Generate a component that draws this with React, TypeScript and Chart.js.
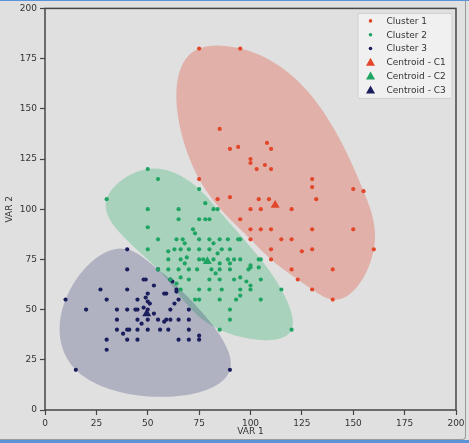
import React, { useEffect, useRef } from "react";
import { Chart, registerables } from "chart.js";

Chart.register(...registerables);

type Pt = [number, number];

// ---- data ----
const cluster1: Pt[] = [
  [75, 180], [95, 180], [85, 140], [90, 130], [94, 131], [108, 133], [110, 130], [100, 125],
  [100, 123], [103, 120], [107, 122], [110, 120], [75, 115], [130, 115], [130, 111], [150, 110],
  [155, 109], [90, 106], [84, 105], [104, 105], [109, 105], [132, 105], [100, 100], [105, 100],
  [120, 100], [95, 95], [100, 90], [105, 90], [110, 90], [130, 90], [150, 90], [100, 85],
  [115, 85], [120, 85], [110, 80], [125, 79], [130, 80], [160, 80], [110, 75], [120, 70],
  [140, 70], [123, 65], [130, 60], [140, 55],
];

const cluster2: Pt[] = [
  [50, 120], [55, 115], [30, 105], [75, 110], [78, 103], [50, 100], [65, 100], [82, 100],
  [84, 100], [65, 95], [75, 95], [78, 95], [80, 95], [50, 91], [72, 90], [73, 88], [55, 85],
  [64, 85], [67, 85], [68, 83], [75, 85], [80, 85], [82, 83], [85, 85], [89, 85], [94, 85],
  [95, 85], [50, 80], [60, 79], [63, 80], [66, 80], [70, 80], [75, 80], [80, 80], [84, 78],
  [86, 80], [90, 80], [60, 75], [66, 75], [69, 76], [75, 75], [77, 75], [82, 75], [89, 75],
  [92, 75], [95, 75], [104, 75], [105, 75], [85, 73], [90, 73], [100, 72], [100, 71], [104, 71],
  [55, 70], [60, 70], [65, 70], [68, 73], [70, 70], [74, 70], [81, 70], [85, 70], [90, 70],
  [99, 70], [83, 68], [61, 65], [64, 63], [66, 66], [70, 65], [80, 65], [85, 65], [92, 65],
  [95, 66], [98, 64], [105, 65], [100, 62], [66, 60], [75, 60], [80, 60], [86, 60], [95, 60],
  [100, 60], [115, 60], [73, 55], [75, 55], [85, 55], [93, 55], [95, 57], [105, 55], [90, 50],
  [90, 45], [85, 40], [120, 40],
];

const cluster3: Pt[] = [
  [40, 80], [40, 70], [55, 70], [48, 65], [49, 65], [61, 65], [53, 62], [62, 64], [27, 60],
  [40, 60], [64, 60], [50, 58], [58, 58], [59, 58], [64, 59], [10, 55], [30, 55], [45, 55],
  [49, 56], [50, 54], [51, 53], [65, 55], [63, 53], [20, 50], [35, 50], [40, 50], [44, 50],
  [45, 50], [48, 51], [50, 50], [61, 50], [70, 50], [53, 48], [35, 45], [45, 45], [47, 43],
  [50, 45], [55, 45], [58, 44], [59, 45], [61, 45], [65, 45], [70, 45], [35, 40], [40, 40],
  [41, 40], [45, 40], [50, 40], [56, 40], [60, 40], [70, 40], [38, 38], [30, 35], [40, 35],
  [45, 35], [65, 35], [70, 35], [75, 37], [75, 35], [30, 30], [15, 20], [90, 20],
];

const centroid1: Pt = [112, 102];
const centroid2: Pt = [79, 74];
const centroid3: Pt = [49.5, 48];

const seriesLabels = ["Cluster 1", "Cluster 2", "Cluster 3", "Centroid - C1", "Centroid - C2", "Centroid - C3"];
const axisTicks = [0, 25, 50, 75, 100, 125, 150, 175, 200];
const xTitle = "VAR 1";
const yTitle = "VAR 2";

// ---- styles ----
const RED = "#e2472c";
const GREEN = "#1fa463";
const NAVY = "#1b1e5c";
const FILLS = ["rgba(226,74,51,0.32)", "rgba(44,182,108,0.31)", "rgba(30,34,100,0.25)"];
const BG = "#e0e0e0";
const SPINE = "#454545";

// ---- geometry helpers (shapes derived from the data) ----
function convexHull(points: Pt[]): Pt[] {
  const p = [...points].sort((a, b) => a[0] - b[0] || a[1] - b[1]);
  const cross = (o: Pt, a: Pt, b: Pt) => (a[0] - o[0]) * (b[1] - o[1]) - (a[1] - o[1]) * (b[0] - o[0]);
  const lower: Pt[] = [];
  for (const q of p) {
    while (lower.length >= 2 && cross(lower[lower.length - 2], lower[lower.length - 1], q) <= 0) lower.pop();
    lower.push(q);
  }
  const upper: Pt[] = [];
  for (let i = p.length - 1; i >= 0; i--) {
    const q = p[i];
    while (upper.length >= 2 && cross(upper[upper.length - 2], upper[upper.length - 1], q) <= 0) upper.pop();
    upper.push(q);
  }
  lower.pop();
  upper.pop();
  return lower.concat(upper);
}

function solve(A: number[][], d: number[]): number[] {
  const n = d.length;
  const M = A.map((r, i) => [...r, d[i]]);
  for (let c = 0; c < n; c++) {
    let piv = c;
    for (let r = c + 1; r < n; r++) if (Math.abs(M[r][c]) > Math.abs(M[piv][c])) piv = r;
    [M[c], M[piv]] = [M[piv], M[c]];
    for (let r = c + 1; r < n; r++) {
      const f = M[r][c] / M[c][c];
      for (let k = c; k <= n; k++) M[r][k] -= f * M[c][k];
    }
  }
  const x = new Array(n).fill(0);
  for (let r = n - 1; r >= 0; r--) {
    let s = M[r][n];
    for (let k = r + 1; k < n; k++) s -= M[r][k] * x[k];
    x[r] = s / M[r][r];
  }
  return x;
}

function closedSpline(P: Pt[], steps = 40): Pt[] {
  const n = P.length;
  const h = P.map((p, i) => Math.hypot(P[(i + 1) % n][0] - p[0], P[(i + 1) % n][1] - p[1]));
  const A = Array.from({ length: n }, () => new Array(n).fill(0));
  const dx: number[] = [];
  const dy: number[] = [];
  for (let i = 0; i < n; i++) {
    const ip = (i - 1 + n) % n;
    const inx = (i + 1) % n;
    A[i][ip] += h[ip];
    A[i][i] += 2 * (h[ip] + h[i]);
    A[i][inx] += h[i];
    dx.push(6 * ((P[inx][0] - P[i][0]) / h[i] - (P[i][0] - P[ip][0]) / h[ip]));
    dy.push(6 * ((P[inx][1] - P[i][1]) / h[i] - (P[i][1] - P[ip][1]) / h[ip]));
  }
  const Mx = solve(A, dx);
  const My = solve(A, dy);
  const out: Pt[] = [];
  for (let i = 0; i < n; i++) {
    const j = (i + 1) % n;
    const hi = h[i];
    for (let s = 0; s < steps; s++) {
      const t = (hi * s) / steps;
      const a = hi - t;
      const f = (m0: number, m1: number, p0: number, p1: number) =>
        (m0 * a * a * a) / (6 * hi) + (m1 * t * t * t) / (6 * hi) + (p0 / hi - (m0 * hi) / 6) * a + (p1 / hi - (m1 * hi) / 6) * t;
      out.push([f(Mx[i], Mx[j], P[i][0], P[j][0]), f(My[i], My[j], P[i][1], P[j][1])]);
    }
  }
  return out;
}

const shapes = [cluster1, cluster2, cluster3].map((c) => closedSpline(convexHull(c)));

const hullPlugin = {
  id: "hulls",
  beforeDatasetsDraw(chart: any) {
    const { ctx, chartArea, scales } = chart;
    const xs = scales.x;
    const ys = scales.y;
    ctx.save();
    ctx.beginPath();
    ctx.rect(chartArea.left, chartArea.top, chartArea.right - chartArea.left, chartArea.bottom - chartArea.top);
    ctx.clip();
    shapes.forEach((curve, k) => {
      ctx.beginPath();
      curve.forEach(([a, b], i) => {
        const px = xs.getPixelForValue(a);
        const py = ys.getPixelForValue(b);
        if (i) ctx.lineTo(px, py);
        else ctx.moveTo(px, py);
      });
      ctx.closePath();
      ctx.fillStyle = FILLS[k];
      ctx.fill();
    });
    ctx.restore();
  },
  afterDatasetsDraw(chart: any) {
    const { ctx, chartArea } = chart;
    ctx.save();
    ctx.strokeStyle = SPINE;
    ctx.lineWidth = 1.5;
    ctx.strokeRect(chartArea.left, chartArea.top, chartArea.right - chartArea.left, chartArea.bottom - chartArea.top);
    ctx.restore();
  },
  afterDraw(chart: any) {
    const { ctx, chartArea } = chart;
    const w = 94;
    const hgt = 85;
    const left = chartArea.right - 4 - w;
    const top = chartArea.top + 5;
    ctx.save();
    ctx.beginPath();
    const r = 2;
    ctx.moveTo(left + r, top);
    ctx.arcTo(left + w, top, left + w, top + hgt, r);
    ctx.arcTo(left + w, top + hgt, left, top + hgt, r);
    ctx.arcTo(left, top + hgt, left, top, r);
    ctx.arcTo(left, top, left + w, top, r);
    ctx.closePath();
    ctx.fillStyle = "rgba(242,242,242,0.85)";
    ctx.fill();
    ctx.strokeStyle = "#cfcfcf";
    ctx.lineWidth = 1;
    ctx.stroke();
    ctx.font = "9px 'DejaVu Sans'";
    ctx.textBaseline = "middle";
    ctx.textAlign = "left";
    chart.data.datasets.forEach((ds: any, i: number) => {
      const cy = top + 7.5 + i * 13.8;
      const cx = left + 12.5;
      ctx.fillStyle = ds.backgroundColor;
      ctx.beginPath();
      if (i < 3) {
        ctx.arc(cx, cy, 1.8, 0, Math.PI * 2);
      } else {
        ctx.moveTo(cx, cy - 4.5);
        ctx.lineTo(cx + 4.5, cy + 3.5);
        ctx.lineTo(cx - 4.5, cy + 3.5);
        ctx.closePath();
      }
      ctx.fill();
      ctx.fillStyle = "#333";
      ctx.fillText(ds.label, left + 28.5, cy + 0.5);
    });
    ctx.restore();
  },
};

const toXY = (arr: Pt[]) => arr.map(([x, y]) => ({ x, y }));

export default function App() {
  const ref = useRef<HTMLCanvasElement>(null);
  useEffect(() => {
    document.body.style.margin = "0";
    document.body.style.background = BG;
    Chart.defaults.font.family = "'DejaVu Sans'";
    const colors = [RED, GREEN, NAVY, RED, GREEN, NAVY];
    const sets = [cluster1, cluster2, cluster3, [centroid1], [centroid2], [centroid3]];
    const axis = (title: string, isX: boolean) => ({
      type: "linear" as const,
      min: 0,
      max: 200,
      afterBuildTicks: (s: any) => {
        s.ticks = axisTicks.map((v) => ({ value: v }));
      },
      afterFit: (s: any) => {
        if (isX) s.height = 33;
        else s.width = 45;
      },
      ticks: { font: { size: 9 }, color: "#333", padding: 3, autoSkip: false, maxRotation: 0 },
      grid: { display: true, drawOnChartArea: false, drawTicks: true, tickLength: 5, tickColor: SPINE, tickWidth: 1.2 },
      border: { display: false },
      title: {
        display: true,
        text: title,
        color: "#333",
        font: { size: 9 },
        padding: isX ? { top: 0, bottom: 5.6 } : { top: 4.6, bottom: 0 },
      },
    });
    const chart = new Chart(ref.current as HTMLCanvasElement, {
      type: "scatter",
      data: {
        datasets: sets.map((d, i) => ({
          label: seriesLabels[i],
          data: toXY(d),
          backgroundColor: colors[i],
          borderColor: colors[i],
          borderWidth: 0,
          pointStyle: i < 3 ? "circle" : "triangle",
          pointRadius: i < 3 ? 2.1 : 5.2,
        })),
      },
      options: {
        animation: false,
        responsive: true,
        maintainAspectRatio: false,
        devicePixelRatio: 1,
        layout: { padding: { top: 8, right: 13, left: 0, bottom: 0 } },
        plugins: { legend: { display: false }, tooltip: { enabled: false } },
        scales: { x: axis(xTitle, true), y: axis(yTitle, false) },
      },
      plugins: [hullPlugin],
    });
    return () => chart.destroy();
  }, []);
  return (
    <div
      style={{
        width: 469,
        height: 443,
        position: "relative",
        background: BG,
        boxSizing: "border-box",
        overflow: "hidden",
      }}
    >
      <canvas ref={ref} />
      <div
        style={{
          position: "absolute",
          left: 0,
          top: 0,
          width: 466,
          height: 440,
          borderRight: "1.5px solid #9c9c9c",
          borderBottom: "1px solid #9c9c9c",
          borderBottomRightRadius: 4,
          boxSizing: "border-box",
          pointerEvents: "none",
        }}
      />
      <div style={{ position: "absolute", left: 0, top: 0, width: 469, height: 1, background: "#5b93d6", pointerEvents: "none" }} />
      <div style={{ position: "absolute", left: 0, top: 440, width: 469, height: 3, background: "#5b93d6", pointerEvents: "none" }} />
    </div>
  );
}
